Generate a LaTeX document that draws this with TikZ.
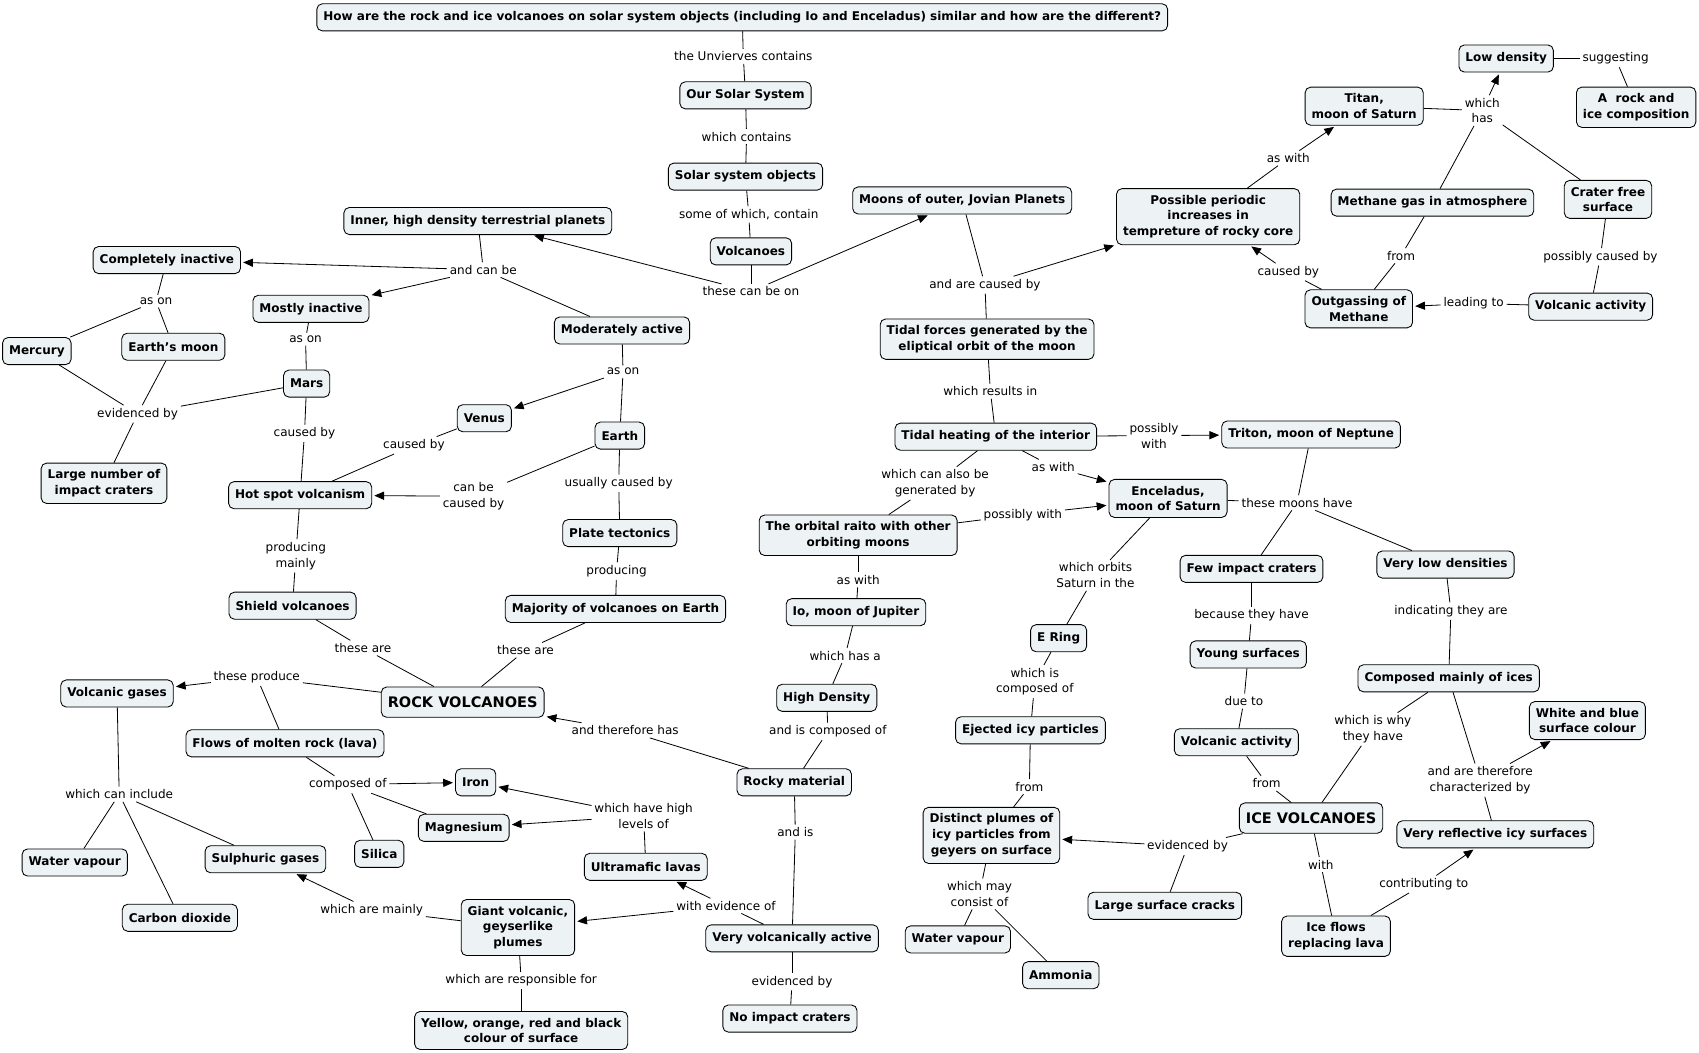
\documentclass[tikz,border=0pt]{standalone}
\usepackage{fontspec}
\setmainfont{DejaVu Sans}
\usetikzlibrary{arrows.meta}
\definecolor{nodefill}{RGB}{237,243,245}
\newcommand\mapfont{\fontsize{11.1}{14.5}\selectfont}
\newcommand\bigmapfont{\fontsize{13.4}{16}\selectfont}
\tikzset{
  cnode/.style={draw, rounded corners=5pt, fill=nodefill, font=\mapfont\bfseries, align=center,
    inner xsep=6pt, inner ysep=6pt, minimum height=25pt, line width=0.8pt},
  bignode/.style={cnode, font=\bigmapfont\bfseries, minimum height=28pt},
  lab/.style={inner sep=2.5pt, align=center, font=\mapfont},
  ln/.style={line width=0.75pt},
  arr/.style={ln, -{Triangle[length=9pt,width=7.5pt]}, shorten >=2pt},
}
\begin{document}
\begin{tikzpicture}[x=1pt,y=-1pt]
\fill[white] (0,0) rectangle (1568,971);
\useasboundingbox (0,0) rectangle (1568,971);
% ---------- concept nodes ----------
\node[cnode] (title) at (685,16) {How are the rock and ice volcanoes on solar system objects (including Io and Enceladus) similar and how are the different?};
\node[cnode] (oss) at (688,88) {Our Solar System};
\node[cnode] (sso) at (688,163) {Solar system objects};
\node[cnode] (volc) at (693,232) {Volcanoes};
\node[cnode] (inner) at (441,204) {Inner, high density terrestrial planets};
\node[cnode] (moons) at (888,185) {Moons of outer, Jovian Planets};
\node[cnode] (compl) at (154,240) {Completely inactive};
\node[cnode] (mostly) at (287,285) {Mostly inactive};
\node[cnode] (moder) at (574,305) {Moderately active};
\node[cnode] (mercury) at (34,324) {Mercury};
\node[cnode] (emoon) at (160,320) {Earth's moon};
\node[cnode] (mars) at (283,354) {Mars};
\node[cnode] (large) at (96,446) {Large number of\\impact craters};
\node[cnode] (venus) at (447,386) {Venus};
\node[cnode] (earth) at (572,402) {Earth};
\node[cnode] (hotspot) at (277,457) {Hot spot volcanism};
\node[cnode] (plate) at (572,492) {Plate tectonics};
\node[cnode] (shield) at (270,559) {Shield volcanoes};
\node[cnode] (major) at (568,562) {Majority of volcanoes on Earth};
\node[bignode] (rock) at (427,648) {ROCK VOLCANOES};
\node[cnode] (vgas) at (108,640) {Volcanic gases};
\node[cnode] (flows) at (263,686) {Flows of molten rock (lava)};
\node[cnode] (iron) at (439,722) {Iron};
\node[cnode] (magn) at (428,764) {Magnesium};
\node[cnode] (silica) at (350,788) {Silica};
\node[cnode] (wvap) at (69,796) {Water vapour};
\node[cnode] (sulph) at (245,793) {Sulphuric gases};
\node[cnode] (co2) at (166,847) {Carbon dioxide};
\node[cnode] (ultra) at (596,800) {Ultramafic lavas};
\node[cnode] (giant) at (478,856) {Giant volcanic,\\geyserlike\\plumes};
\node[cnode] (yellow) at (481,951) {Yellow, orange, red and black\\colour of surface};
\node[cnode] (rocky) at (733,722) {Rocky material};
\node[cnode] (highd) at (763,644) {High Density};
\node[cnode] (vva) at (731,866) {Very volcanically active};
\node[cnode] (noimp) at (729,940) {No impact craters};
\node[cnode] (io) at (790,565) {Io, moon of Jupiter};
\node[cnode] (orbital) at (792,494) {The orbital raito with other\\orbiting moons};
\node[cnode] (tidalh) at (919,403) {Tidal heating of the interior};
\node[cnode] (tidalf) at (911,313) {Tidal forces generated by the\\eliptical orbit of the moon};
\node[cnode] (periodic) at (1115,200) {Possible periodic\\increases in\\tempreture of rocky core};
\node[cnode] (titan) at (1259,98) {Titan,\\moon of Saturn};
\node[cnode] (lowd) at (1390,54) {Low density};
\node[cnode] (rockice) at (1510,99) {A\ \ rock and\\ice composition};
\node[cnode] (methane) at (1322,187) {Methane gas in atmosphere};
\node[cnode] (crater) at (1484,184) {Crater free\\surface};
\node[cnode] (outgas) at (1254,285) {Outgassing of\\Methane};
\node[cnode] (vact1) at (1468,283) {Volcanic activity};
\node[cnode] (triton) at (1210,401) {Triton, moon of Neptune};
\node[cnode] (encel) at (1078,460) {Enceladus,\\moon of Saturn};
\node[cnode] (few) at (1155,525) {Few impact craters};
\node[cnode] (vlow) at (1334,521) {Very low densities};
\node[cnode] (ering) at (977,589) {E Ring};
\node[cnode] (young) at (1152,604) {Young surfaces};
\node[cnode] (ices) at (1337,626) {Composed mainly of ices};
\node[cnode] (ejected) at (951,674) {Ejected icy particles};
\node[cnode] (vact2) at (1141,685) {Volcanic activity};
\node[cnode] (white) at (1465,665) {White and blue\\surface colour};
\node[bignode] (ice) at (1210,755) {ICE VOLCANOES};
\node[cnode] (plumes) at (915,771) {Distinct plumes of\\icy particles from\\geyers on surface};
\node[cnode] (reflect) at (1380,770) {Very reflective icy surfaces};
\node[cnode] (cracks) at (1075,836) {Large surface cracks};
\node[cnode] (iceflow) at (1233,864) {Ice flows\\replacing lava};
\node[cnode] (wvap2) at (884,867) {Water vapour};
\node[cnode] (ammonia) at (979,900) {Ammonia};
% ---------- linking phrases ----------
\node[lab] (l1) at (686,52) {the Unvierves contains};
\node[lab] (l2) at (689,126) {which contains};
\node[lab] (l3) at (691,198) {some of which, contain};
\node[lab] (l4) at (693,269) {these can be on};
\node[lab] (l5) at (446,249) {and can be};
\node[lab] (l6) at (144,278) {as on};
\node[lab] (l7) at (282,313) {as on};
\node[lab] (l8) at (127,382) {evidenced by};
\node[lab] (l9) at (575,343) {as on};
\node[lab] (l10) at (281,400) {caused by};
\node[lab] (l11) at (382,411) {caused by};
\node[lab] (l12) at (437,458) {can be\\caused by};
\node[lab] (l13) at (571,446) {usually caused by};
\node[lab] (l14) at (273,513) {producing\\mainly};
\node[lab] (l15) at (569,527) {producing};
\node[lab] (l16) at (335,598) {these are};
\node[lab] (l17) at (485,600) {these are};
\node[lab] (l18) at (237,625) {these produce};
\node[lab] (l19) at (110,733) {which can include};
\node[lab] (l20) at (321,724) {composed of};
\node[lab] (l21) at (594,753) {which have high\\levels of};
\node[lab] (l22) at (670,836) {with evidence of};
\node[lab] (l23) at (343,840) {which are mainly};
\node[lab] (l24) at (481,905) {which are responsible for};
\node[lab] (l25) at (577,674) {and therefore has};
\node[lab] (l26) at (764,675) {and is composed of};
\node[lab] (l27) at (780,605) {which has a};
\node[lab] (l28) at (734,768) {and is};
\node[lab] (l29) at (731,906) {evidenced by};
\node[lab] (l30) at (792,535) {as with};
\node[lab] (l31) at (863,446) {which can also be\\generated by};
\node[lab] (l32) at (944,475) {possibly with};
\node[lab] (l33) at (972,431) {as with};
\node[lab] (l34) at (1065,402) {possibly\\with};
\node[lab] (l35) at (914,361) {which results in};
\node[lab] (l36) at (909,263) {and are caused by};
\node[lab] (l37) at (1189,146) {as with};
\node[lab] (l38) at (1189,251) {caused by};
\node[lab] (l39) at (1293,236) {from};
\node[lab] (l40) at (1360,280) {leading to};
\node[lab] (l41) at (1477,237) {possibly caused by};
\node[lab] (l42) at (1368,102) {which\\has};
\node[lab] (l43) at (1491,54) {suggesting};
\node[lab] (l44) at (1197,464) {these moons have};
\node[lab] (l45) at (1011,531) {which orbits\\Saturn in the};
\node[lab] (l46) at (1155,568) {because they have};
\node[lab] (l47) at (1339,564) {indicating they are};
\node[lab] (l48) at (955,629) {which is\\composed of};
\node[lab] (l49) at (1148,647) {due to};
\node[lab] (l50) at (950,726) {from};
\node[lab] (l51) at (1169,723) {from};
\node[lab] (l52) at (1267,673) {which is why\\they have};
\node[lab] (l53) at (1366,720) {and are therefore\\characterized by};
\node[lab] (l54) at (1096,781) {evidenced by};
\node[lab] (l55) at (1219,798) {with};
\node[lab] (l56) at (1314,816) {contributing to};
\node[lab] (l57) at (904,825) {which may\\consist of};
% ---------- connectors ----------
\draw[ln] (title) -- (l1); \draw[ln] (l1) -- (oss);
\draw[ln] (oss) -- (l2); \draw[ln] (l2) -- (sso);
\draw[ln] (sso) -- (l3); \draw[ln] (l3) -- (volc);
\draw[ln] (volc) -- (l4); \draw[arr] (l4) -- (inner); \draw[arr] (l4) -- (moons);
\draw[ln] (inner) -- (l5); \draw[arr] (l5) -- (compl); \draw[arr] (l5) -- (mostly); \draw[ln] (l5) -- (moder);
\draw[ln] (compl) -- (l6); \draw[ln] (l6) -- (mercury); \draw[ln] (l6) -- (emoon);
\draw[ln] (mostly) -- (l7); \draw[ln] (l7) -- (mars);
\draw[ln] (mercury) -- (l8); \draw[ln] (emoon) -- (l8); \draw[ln] (mars) -- (l8); \draw[ln] (l8) -- (large);
\draw[ln] (moder) -- (l9); \draw[arr] (l9) -- (venus); \draw[ln] (l9) -- (earth);
\draw[ln] (mars) -- (l10); \draw[ln] (l10) -- (hotspot);
\draw[ln] (venus) -- (l11); \draw[ln] (l11) -- (hotspot);
\draw[ln] (earth) -- (l12); \draw[arr] (l12) -- (hotspot);
\draw[ln] (earth) -- (l13); \draw[ln] (l13) -- (plate);
\draw[ln] (hotspot) -- (l14); \draw[ln] (l14) -- (shield);
\draw[ln] (plate) -- (l15); \draw[ln] (l15) -- (major);
\draw[ln] (shield) -- (l16); \draw[ln] (l16) -- (rock);
\draw[ln] (major) -- (l17); \draw[ln] (l17) -- (rock);
\draw[ln] (rock) -- (l18); \draw[arr] (l18) -- (vgas); \draw[ln] (l18) -- (flows);
\draw[ln] (vgas) -- (l19); \draw[ln] (l19) -- (wvap); \draw[ln] (l19) -- (co2); \draw[ln] (l19) -- (sulph);
\draw[ln] (flows) -- (l20); \draw[arr] (l20) -- (iron); \draw[ln] (l20) -- (magn); \draw[ln] (l20) -- (silica);
\draw[ln] (ultra) -- (l21); \draw[arr] (l21) -- (iron); \draw[arr] (l21) -- (magn);
\draw[ln] (vva) -- (l22); \draw[arr] (l22) -- (ultra); \draw[arr] (l22) -- (giant);
\draw[ln] (giant) -- (l23); \draw[arr] (l23) -- (sulph);
\draw[ln] (giant) -- (l24); \draw[ln] (l24) -- (yellow);
\draw[ln] (rocky) -- (l25); \draw[arr] (l25) -- (rock);
\draw[ln] (highd) -- (l26); \draw[ln] (l26) -- (rocky);
\draw[ln] (io) -- (l27); \draw[ln] (l27) -- (highd);
\draw[ln] (rocky) -- (l28); \draw[ln] (l28) -- (vva);
\draw[ln] (vva) -- (l29); \draw[ln] (l29) -- (noimp);
\draw[ln] (orbital) -- (l30); \draw[ln] (l30) -- (io);
\draw[ln] (tidalh) -- (l31); \draw[ln] (l31) -- (orbital);
\draw[ln] (orbital) -- (l32); \draw[arr] (l32) -- (encel);
\draw[ln] (tidalh) -- (l33); \draw[arr] (l33) -- (encel);
\draw[ln] (tidalh) -- (l34); \draw[arr] (l34) -- (triton);
\draw[ln] (tidalf) -- (l35); \draw[ln] (l35) -- (tidalh);
\draw[ln] (moons) -- (l36); \draw[ln] (l36) -- (tidalf); \draw[arr] (l36) -- (periodic);
\draw[ln] (periodic) -- (l37); \draw[arr] (l37) -- (titan);
\draw[ln] (outgas) -- (l38); \draw[arr] (l38) -- (periodic);
\draw[ln] (methane) -- (l39); \draw[ln] (l39) -- (outgas);
\draw[ln] (vact1) -- (l40); \draw[arr] (l40) -- (outgas);
\draw[ln] (crater) -- (l41); \draw[ln] (l41) -- (vact1);
\draw[ln] (titan) -- (l42); \draw[arr] (l42) -- (lowd); \draw[ln] (l42) -- (methane); \draw[ln] (l42) -- (crater);
\draw[ln] (lowd) -- (l43); \draw[ln] (l43) -- (rockice);
\draw[ln] (encel) -- (l44); \draw[ln] (triton) -- (l44); \draw[ln] (l44) -- (few); \draw[ln] (l44) -- (vlow);
\draw[ln] (encel) -- (l45); \draw[ln] (l45) -- (ering);
\draw[ln] (few) -- (l46); \draw[ln] (l46) -- (young);
\draw[ln] (vlow) -- (l47); \draw[ln] (l47) -- (ices);
\draw[ln] (ering) -- (l48); \draw[ln] (l48) -- (ejected);
\draw[ln] (young) -- (l49); \draw[ln] (l49) -- (vact2);
\draw[ln] (ejected) -- (l50); \draw[ln] (l50) -- (plumes);
\draw[ln] (vact2) -- (l51); \draw[ln] (l51) -- (ice);
\draw[ln] (ices) -- (l52); \draw[ln] (l52) -- (ice);
\draw[ln] (ices) -- (l53); \draw[arr] (l53) -- (white); \draw[ln] (l53) -- (reflect);
\draw[ln] (ice) -- (l54); \draw[arr] (l54) -- (plumes); \draw[ln] (l54) -- (cracks);
\draw[ln] (ice) -- (l55); \draw[ln] (l55) -- (iceflow);
\draw[ln] (iceflow) -- (l56); \draw[arr] (l56) -- (reflect);
\draw[ln] (plumes) -- (l57); \draw[ln] (l57) -- (wvap2); \draw[ln] (l57) -- (ammonia);
\end{tikzpicture}
\end{document}
